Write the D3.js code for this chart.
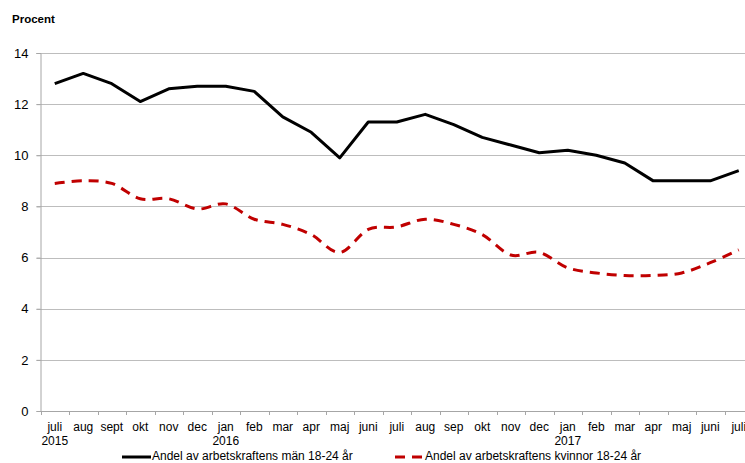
<!DOCTYPE html>
<html>
<head>
<meta charset="utf-8">
<script src="https://cdn.jsdelivr.net/npm/d3@7"></script>
<style>
  body { margin: 0; background: #fff; }
  svg { display: block; font-family: "Liberation Sans", Arial, sans-serif; }
</style>
</head>
<body>
<div id="chart"></div>
<script>
// month labels (juli 2015 - juli 2017)
const months = ["juli", "aug", "sept", "okt", "nov", "dec", "jan", "feb", "mar", "apr", "maj", "juni",
  "juli", "aug", "sep", "okt", "nov", "dec", "jan", "feb", "mar", "apr", "maj", "juni", "juli"];
const years = [[0, "2015"], [6, "2016"], [18, "2017"]];

const men = [12.8, 13.2, 12.8, 12.1, 12.6, 12.7, 12.7, 12.5, 11.5, 10.9, 9.9, 11.3,
  11.3, 11.6, 11.2, 10.7, 10.4, 10.1, 10.2, 10.0, 9.7, 9.0, 9.0, 9.0, 9.4];
const women = [8.9, 9.0, 8.9, 8.3, 8.3, 7.9, 8.1, 7.5, 7.3, 6.9, 6.2, 7.1,
  7.2, 7.5, 7.3, 6.9, 6.1, 6.2, 5.6, 5.4, 5.3, 5.3, 5.4, 5.8, 6.3];

const yTicks = [0, 2, 4, 6, 8, 10, 12, 14];
const seriesNames = ["Andel av arbetskraftens män 18-24 år", "Andel av arbetskraftens kvinnor 18-24 år"];

(() => {
  const width = 745;
  const height = 463;
  const left = 40.5, right = 753, top = 53, bottom = 411;

  const svg = d3.select("#chart").append("svg")
    .attr("width", width)
    .attr("height", height);

  const x = d3.scaleBand().domain(d3.range(months.length)).range([left, right]);
  const y = d3.scaleLinear().domain([0, 14]).range([bottom, top]);
  const cx = (i) => x(i) + x.bandwidth() / 2;

  svg.append("text")
    .attr("x", 12).attr("y", 23)
    .style("font-size", "11.5px").style("font-weight", "bold")
    .text("Procent");

  // gridlines
  svg.append("g").selectAll("line")
    .data(yTicks.filter((d) => d > 0))
    .join("line")
    .attr("x1", left - 4).attr("x2", width)
    .attr("y1", (d) => Math.round(y(d)) + 0.5).attr("y2", (d) => Math.round(y(d)) + 0.5)
    .attr("stroke", "#bdbdbd");

  // y axis
  const yAxis = svg.append("g")
    .attr("transform", `translate(${left},0)`)
    .call(d3.axisLeft(y).tickValues(yTicks).tickSize(4).tickPadding(8));
  yAxis.select(".domain").attr("stroke", "#a6a6a6");
  yAxis.selectAll(".tick line").attr("stroke", "#a6a6a6");
  yAxis.selectAll("text").style("font-size", "13px").attr("fill", "#000")
    .attr("font-family", null);

  // x axis line with ticks between categories
  svg.append("line")
    .attr("x1", left).attr("x2", width)
    .attr("y1", bottom + 0.5).attr("y2", bottom + 0.5)
    .attr("stroke", "#a6a6a6");
  svg.append("g").selectAll("line")
    .data(d3.range(months.length + 1))
    .join("line")
    .attr("x1", (i) => Math.round(left + i * x.step()) + 0.5)
    .attr("x2", (i) => Math.round(left + i * x.step()) + 0.5)
    .attr("y1", bottom).attr("y2", bottom + 4)
    .attr("stroke", "#a6a6a6");

  svg.append("g").selectAll("text")
    .data(months)
    .join("text")
    .attr("x", (d, i) => cx(i))
    .attr("y", 431)
    .attr("text-anchor", "middle")
    .style("font-size", "12px")
    .text((d) => d);

  svg.append("g").selectAll("text")
    .data(years)
    .join("text")
    .attr("x", (d) => cx(d[0]))
    .attr("y", 445)
    .attr("text-anchor", "middle")
    .style("font-size", "12px")
    .text((d) => d[1]);

  // lines
  const straight = d3.line().x((d, i) => cx(i)).y((d) => y(d));
  const smooth = d3.line().x((d, i) => cx(i)).y((d) => y(d)).curve(d3.curveCardinal.tension(0));

  svg.append("path")
    .attr("d", straight(men))
    .attr("fill", "none")
    .attr("stroke", "#000")
    .attr("stroke-width", 3)
    .attr("stroke-linejoin", "round");

  svg.append("path")
    .attr("d", smooth(women))
    .attr("fill", "none")
    .attr("stroke", "#c00000")
    .attr("stroke-width", 3)
    .attr("stroke-dasharray", "10,7");

  // legend
  const legend = svg.append("g");
  legend.append("line")
    .attr("x1", 122).attr("x2", 151).attr("y1", 457).attr("y2", 457)
    .attr("stroke", "#000").attr("stroke-width", 3);
  legend.append("text")
    .attr("x", 152).attr("y", 460)
    .style("font-size", "12px")
    .text(seriesNames[0]);
  legend.append("line")
    .attr("x1", 395).attr("x2", 424).attr("y1", 457).attr("y2", 457)
    .attr("stroke", "#c00000").attr("stroke-width", 3)
    .attr("stroke-dasharray", "10,7");
  legend.append("text")
    .attr("x", 425).attr("y", 460)
    .style("font-size", "12px")
    .text(seriesNames[1]);
})();
</script>
</body>
</html>
